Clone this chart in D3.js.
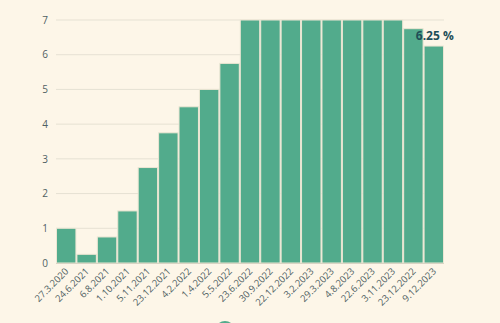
<!DOCTYPE html>
<html>
<head>
<meta charset="utf-8">
<script src="https://cdn.jsdelivr.net/npm/d3@7"></script>
<style>
  body { margin: 0; background: #fdf6e8; }
  svg { display: block; }
</style>
</head>
<body>
<div id="chart"></div>
<script>
// data
const dates = ["27.3.2020", "24.6.2021", "6.8.2021", "1.10.2021", "5.11.2021", "23.12.2021",
  "4.2.2022", "1.4.2022", "5.5.2022", "23.6.2022", "30.9.2022", "22.12.2022", "3.2.2023",
  "29.3.2023", "4.8.2023", "22.6.2023", "3.11.2023", "23.12.2022", "9.12.2023"];
const rates = [1, 0.25, 0.75, 1.5, 2.75, 3.75, 4.5, 5, 5.75, 7, 7, 7, 7, 7, 7, 7, 7, 6.75, 6.25];
const yTicks = [0, 1, 2, 3, 4, 5, 6, 7];

const width = 500;
const height = 323;
const margin = { top: 20, right: 56, bottom: 60, left: 56 };

const svg = d3.select("#chart")
  .append("svg")
  .attr("width", width)
  .attr("height", height)
  .style("background", "#fdf6e8");

const xScale = d3.scaleBand()
  .domain(dates.map((d, i) => i))
  .range([margin.left, width - margin.right])
  .padding(0);

const yScale = d3.scaleLinear()
  .domain([0, 7])
  .range([height - margin.bottom, margin.top]);

// grid
svg.append("g")
  .selectAll("line")
  .data(yTicks)
  .join("line")
  .attr("x1", margin.left)
  .attr("x2", width - margin.right)
  .attr("y1", d => yScale(d))
  .attr("y2", d => yScale(d))
  .attr("stroke", "#e6e1d3")
  .attr("stroke-width", 1);

// y axis labels
const yAxis = svg.append("g")
  .attr("transform", `translate(${margin.left - 8},0)`)
  .call(d3.axisLeft(yScale).tickValues(yTicks).tickFormat(d3.format("d")).tickSize(0).tickPadding(0));
yAxis.select(".domain").remove();
yAxis.selectAll("text")
  .attr("fill", "#4f5f63")
  .style("font-family", "'Open Sans', sans-serif")
  .style("font-size", "10px");

// bars
svg.append("g")
  .selectAll("rect")
  .data(rates)
  .join("rect")
  .attr("x", (d, i) => xScale(i) + 0.5)
  .attr("width", xScale.bandwidth() - 1)
  .attr("y", d => yScale(d))
  .attr("height", d => yScale(0) - yScale(d))
  .attr("fill", "#52ab8c")
  .attr("stroke", "#ece6d3")
  .attr("stroke-width", 1);

// baseline
svg.append("line")
  .attr("x1", margin.left)
  .attr("x2", width - margin.right)
  .attr("y1", yScale(0) + 0.5)
  .attr("y2", yScale(0) + 0.5)
  .attr("stroke", "#d9d4c4");

// x labels
svg.append("g")
  .selectAll("text")
  .data(dates)
  .join("text")
  .attr("transform", (d, i) => `translate(${xScale(i) + xScale.bandwidth() / 2 + 3},${yScale(0) + 9}) rotate(-45)`)
  .attr("text-anchor", "end")
  .attr("fill", "#4f5f63")
  .style("font-family", "'Open Sans', sans-serif")
  .style("font-size", "9.5px")
  .text(d => d);

// annotation on last bar
const last = rates.length - 1;
svg.append("text")
  .attr("x", xScale(last) + xScale.bandwidth() / 2 + 1)
  .attr("y", yScale(rates[last]) - 6)
  .attr("text-anchor", "middle")
  .attr("fill", "#1f4e57")
  .style("font-family", "'Open Sans', sans-serif")
  .style("font-weight", "bold")
  .style("font-size", "12px")
  .text("6.25 %");

// partial button at bottom
svg.append("circle")
  .attr("cx", 225)
  .attr("cy", 331)
  .attr("r", 10)
  .attr("fill", "#52ab8c");
</script>
</body>
</html>
